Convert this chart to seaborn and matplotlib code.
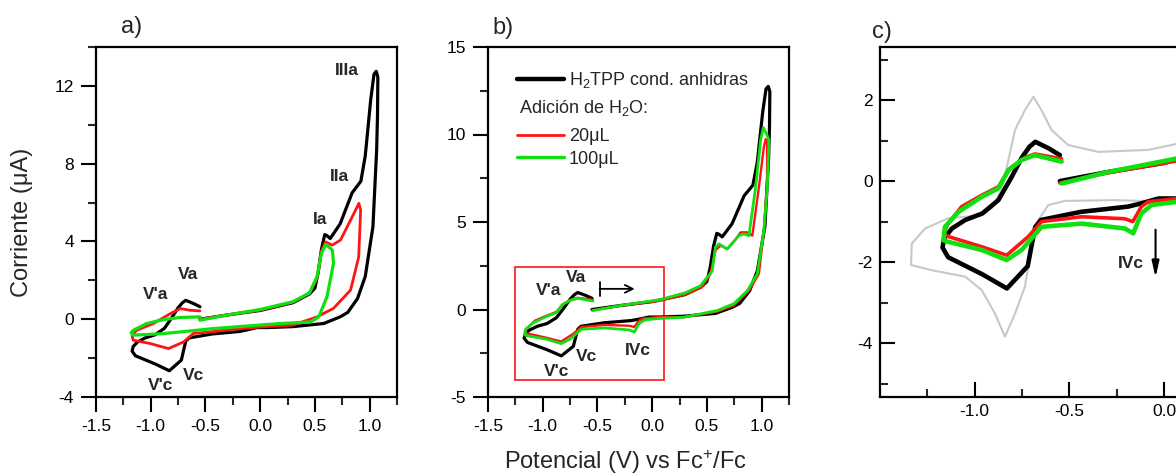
import matplotlib
matplotlib.use("Agg")
import matplotlib.pyplot as plt
import seaborn as sns
from matplotlib.ticker import MultipleLocator, FixedLocator
from matplotlib.patches import Rectangle
from matplotlib.lines import Line2D

# ---- voltammogramas (E en V vs Fc+/Fc, I en uA) ----
# H2TPP condiciones anhidras (paneles a, b y c)
black_E = [-0.55, -0.3, 0.0, 0.3, 0.45, 0.50, 0.53, 0.56, 0.59, 0.61, 0.64, 0.73, 0.84, 0.92,
           0.96, 1.01, 1.04, 1.06, 1.075, 1.072, 1.064, 1.03, 0.96, 0.89, 0.80, 0.73, 0.58,
           0.3, 0.07, -0.03, -0.12, -0.19, -0.44, -0.65, -0.68, -0.70, -0.72, -0.78, -0.83,
           -0.96, -1.14, -1.17, -1.16, -1.12, -1.05, -0.96, -0.875, -0.805, -0.75, -0.71,
           -0.68, -0.61, -0.55]
black_I = [0.0, 0.22, 0.45, 0.85, 1.3, 1.6, 2.4, 3.6, 4.35, 4.3, 4.15, 4.9, 6.5, 7.1,
           8.4, 11.3, 12.6, 12.75, 12.45, 10.5, 8.7, 4.75, 2.2, 1.07, 0.35, 0.12, -0.22,
           -0.38, -0.43, -0.43, -0.55, -0.63, -0.76, -0.96, -1.13, -1.6, -2.1, -2.4, -2.65,
           -2.3, -1.88, -1.64, -1.4, -1.17, -0.96, -0.8, -0.47, 0.1, 0.59, 0.85,
           0.97, 0.81, 0.64]

# panel a: inversion a 0.9 V (rojo) y a 0.65 V (verde)
red_a_E = [-0.55, -0.3, 0.0, 0.3, 0.45, 0.52, 0.56, 0.597, 0.658, 0.734, 0.826, 0.902,
           0.918, 0.9, 0.826, 0.67, 0.58, 0.52, 0.3, 0.0, -0.3, -0.5, -0.61, -0.70, -0.838,
           -1.005, -1.16, -1.17, -1.13, -0.975, -0.82, -0.73, -0.64, -0.55]
red_a_I = [0.0, 0.22, 0.47, 0.88, 1.35, 2.1, 3.5, 3.98, 3.81, 4.07, 5.1, 5.96,
           5.6, 3.2, 1.5, 0.56, 0.3, 0.12, -0.3, -0.4, -0.55, -0.68, -0.73, -1.17, -1.51,
           -1.25, -1.08, -0.85, -0.57, -0.22, 0.29, 0.55, 0.46, 0.43]
green_a_E = [-0.55, -0.3, 0.0, 0.3, 0.45, 0.52, 0.56, 0.6, 0.66, 0.67, 0.61, 0.535, 0.46,
             0.185, -0.426, -0.884, -1.16, -1.18, -1.16, -1.036, -0.884, -0.73, -0.55]
green_a_I = [-0.05, 0.22, 0.5, 0.9, 1.35, 2.2, 3.4, 3.85, 3.55, 2.87, 1.15, 0.12, -0.14,
             -0.22, -0.48, -0.74, -0.82, -0.7, -0.57, -0.22, -0.02, 0.09, 0.12]

# paneles b y c: adicion de agua
red_b_E = [-0.55, -0.3, 0.07, 0.3, 0.45, 0.53, 0.58, 0.625, 0.686, 0.75, 0.808, 0.869,
           0.915, 0.975, 1.02, 1.037, 1.05, 1.05, 1.02, 0.975, 0.884, 0.746, 0.594, 0.289,
           0.071, -0.084, -0.12, -0.165, -0.207, -0.436, -0.647, -0.717, -0.831, -0.963,
           -1.139, -1.165, -1.14, -1.069, -0.963, -0.875, -0.814, -0.735, -0.682, -0.541]
red_b_I = [-0.05, 0.2, 0.5, 0.85, 1.25, 2.0, 3.4, 3.65, 3.46, 3.9, 4.41, 4.41,
           4.22, 6.98, 9.27, 9.74, 9.5, 7.36, 4.5, 2.04, 1.08, 0.23, -0.12, -0.44,
           -0.43, -0.51, -0.63, -1.0, -0.93, -0.88, -1.0, -1.37, -1.83, -1.62,
           -1.37, -1.29, -1.05, -0.63, -0.35, -0.14, 0.31, 0.58, 0.67, 0.55]
green_b_E = [-0.54, -0.3, 0.07, 0.3, 0.44, 0.548, 0.578, 0.609, 0.686, 0.792, 0.838, 0.884,
             0.945, 0.99, 1.015, 1.052, 1.067, 1.052, 1.02, 0.96, 0.87, 0.746, 0.594, 0.289,
             0.071, -0.066, -0.12, -0.163, -0.207, -0.436, -0.647, -0.7, -0.752, -0.831,
             -0.963, -1.139, -1.165, -1.157, -1.086, -0.963, -0.875, -0.822, -0.752, -0.682,
             -0.541]
green_b_I = [-0.06, 0.22, 0.56, 0.95, 1.35, 2.2, 3.56, 3.75, 3.46, 4.22, 4.32, 4.22,
             6.98, 9.65, 10.4, 9.93, 9.65, 6.98, 4.5, 2.04, 1.08, 0.33, -0.06, -0.44,
             -0.51, -0.59, -0.8, -1.29, -1.17, -1.05, -1.13, -1.42, -1.7, -1.95,
             -1.7, -1.5, -1.46, -1.13, -0.76, -0.39, -0.18, 0.27, 0.52, 0.64,
             0.48]

# panel c: curva de referencia gris
gray_E = [0.1, -0.084, -0.347, -0.506, -0.594, -0.647, -0.69, -0.735, -0.787, -0.822,
          -0.858, -0.91, -0.963, -1.14, -1.262, -1.332, -1.336, -1.227, -1.05, -0.963,
          -0.893, -0.84, -0.787, -0.735, -0.7, -0.664, -0.611, -0.524, -0.26, 0.1]
gray_I = [0.95, 0.77, 0.72, 0.89, 1.26, 1.75, 2.08, 1.75, 1.26, 0.52,
          -0.22, -0.67, -0.84, -0.92, -1.17, -1.54, -2.07, -2.2, -2.36, -2.69,
          -3.27, -3.84, -3.27, -2.61, -1.62, -0.96, -0.59, -0.49, -0.47, -0.52]

BLACK = "#000000"
RED = "#ff1414"
GREEN = "#10e010"
GRAY = "#c8c8c8"

sns.set_theme(style="ticks")
plt.rcParams['font.family'] = ['Liberation Sans', 'DejaVu Sans']
plt.rcParams['mathtext.fontset'] = 'custom'
plt.rcParams['mathtext.rm'] = 'Liberation Sans'
plt.rcParams['mathtext.it'] = 'Liberation Sans:italic'
plt.rcParams['axes.unicode_minus'] = False


def cv(ax, E, I, color, lw):
    sns.lineplot(x=E, y=I, ax=ax, sort=False, estimator=None, color=color, lw=lw,
                 solid_joinstyle='round', solid_capstyle='round')


def style(ax, direction):
    for s in ax.spines.values():
        s.set_linewidth(1.6)
        s.set_color('black')
    ax.tick_params(which='major', direction=direction, length=11, width=1.5,
                   labelsize=12.5, pad=5, colors='black')
    ax.tick_params(which='minor', direction=direction, length=5.5, width=1.5)
    ax.set_xlabel('')
    ax.set_ylabel('')


fig = plt.figure(figsize=(11.76, 4.74), dpi=100)
ax_a = fig.add_axes([96 / 1176, 77 / 474, 301 / 1176, 350 / 474])
ax_b = fig.add_axes([488 / 1176, 77 / 474, 301 / 1176, 350 / 474])
ax_c = fig.add_axes([880 / 1176, 77 / 474, 303 / 1176, 350 / 474])

# ---- a) ----
cv(ax_a, black_E, black_I, BLACK, 2.3)
cv(ax_a, red_a_E, red_a_I, RED, 2.0)
cv(ax_a, green_a_E, green_a_I, GREEN, 2.3)
ax_a.set_xlim(-1.5, 1.25)
ax_a.set_ylim(-4, 14)
ax_a.xaxis.set_major_locator(MultipleLocator(0.5))
ax_a.xaxis.set_minor_locator(MultipleLocator(0.25))
ax_a.yaxis.set_major_locator(MultipleLocator(4))
ax_a.yaxis.set_minor_locator(MultipleLocator(2))
style(ax_a, 'out')
lab = dict(fontsize=12.5, fontweight='bold', ha='center', va='center')
for t, x, y in [("IIIa", 0.79, 12.77), ("IIa", 0.72, 7.33), ("Ia", 0.55, 5.15),
                ("Va", -0.655, 2.32), ("V'a", -0.96, 1.29), ("V'c", -0.91, -3.4),
                ("Vc", -0.61, -2.88)]:
    ax_a.text(x, y, t, **lab)

# ---- b) ----
cv(ax_b, black_E, black_I, BLACK, 2.3)
cv(ax_b, red_b_E, red_b_I, RED, 1.7)
cv(ax_b, green_b_E, green_b_I, GREEN, 2.0)
ax_b.set_xlim(-1.5, 1.25)
ax_b.set_ylim(-5, 15)
ax_b.xaxis.set_major_locator(MultipleLocator(0.5))
ax_b.xaxis.set_minor_locator(MultipleLocator(0.25))
ax_b.yaxis.set_major_locator(MultipleLocator(5))
ax_b.yaxis.set_minor_locator(MultipleLocator(2.5))
style(ax_b, 'out')
for t, x, y in [("Va", -0.70, 1.84), ("V'a", -0.95, 1.08), ("Vc", -0.60, -2.68),
                ("V'c", -0.87, -3.52), ("IVc", -0.13, -2.34)]:
    ax_b.text(x, y, t, **lab)
ax_b.add_patch(Rectangle((-1.25, -4.0), 1.36, 6.45, fill=False, ec=RED, lw=1.2))
ax_b.annotate('', xy=(-0.16, 1.18), xytext=(-0.48, 1.18),
              arrowprops=dict(arrowstyle=']->,widthA=0.35,lengthA=0',
                              color='black', lw=1.3, shrinkA=0, shrinkB=0,
                              mutation_scale=14))
leg1 = ax_b.legend(handles=[Line2D([], [], color=BLACK, lw=3.2)],
                   labels=['H$_2$TPP cond. anhidras'], loc='upper left',
                   bbox_to_anchor=(0.095, 0.934), frameon=False, fontsize=13,
                   handlelength=2.6, handletextpad=0.3, borderpad=0, borderaxespad=0)
ax_b.add_artist(leg1)
ax_b.text(0.103, 0.826, 'Adición de H$_2$O:', transform=ax_b.transAxes, fontsize=13,
          ha='left', va='center')
ax_b.legend(handles=[Line2D([], [], color=RED, lw=2), Line2D([], [], color=GREEN, lw=2.4)],
            labels=['20μL', '100μL'], loc='upper left', bbox_to_anchor=(0.095, 0.768),
            frameon=False, fontsize=13, handlelength=2.6, handletextpad=0.3,
            borderpad=0, borderaxespad=0, labelspacing=0.3)

# ---- c) ----
cv(ax_c, gray_E, gray_I, GRAY, 1.5)
cv(ax_c, black_E, black_I, BLACK, 3.3)
cv(ax_c, red_b_E, red_b_I, RED, 2.6)
cv(ax_c, green_b_E, green_b_I, GREEN, 3.3)
ax_c.set_xlim(-1.5, 0.1)
ax_c.set_ylim(-5.33, 3.31)
ax_c.xaxis.set_major_locator(FixedLocator([-1.0, -0.5, 0.0]))
ax_c.xaxis.set_minor_locator(FixedLocator([-1.25, -0.75, -0.25]))
ax_c.yaxis.set_major_locator(FixedLocator([-4, -2, 0, 2]))
ax_c.yaxis.set_minor_locator(FixedLocator([-5, -3, -1, 1, 3]))
style(ax_c, 'in')
ax_c.text(-0.175, -2.03, 'IVc', **lab)
ax_c.annotate('', xy=(-0.045, -2.38), xytext=(-0.045, -1.2),
              arrowprops=dict(arrowstyle='-|>,head_length=0.8,head_width=0.18',
                              color='black', lw=1.5, shrinkA=0, shrinkB=0))

# ---- textos de la figura ----
fig.text(0.112, 0.943, 'a)', fontsize=17, ha='center', va='center')
fig.text(503 / 1176, 0.941, 'b)', fontsize=17, ha='center', va='center')
fig.text(882 / 1176, 0.933, 'c)', fontsize=17, ha='center', va='center')
fig.text(22 / 1176, 1 - 222 / 474, 'Corriente (μA)', fontsize=17,
         rotation=90, ha='center', va='center')
fig.text(625 / 1176, 1 - 462 / 474, 'Potencial (V) vs Fc$^{+}$/Fc', fontsize=17,
         ha='center', va='center')

fig.savefig('out.png', dpi=100)
